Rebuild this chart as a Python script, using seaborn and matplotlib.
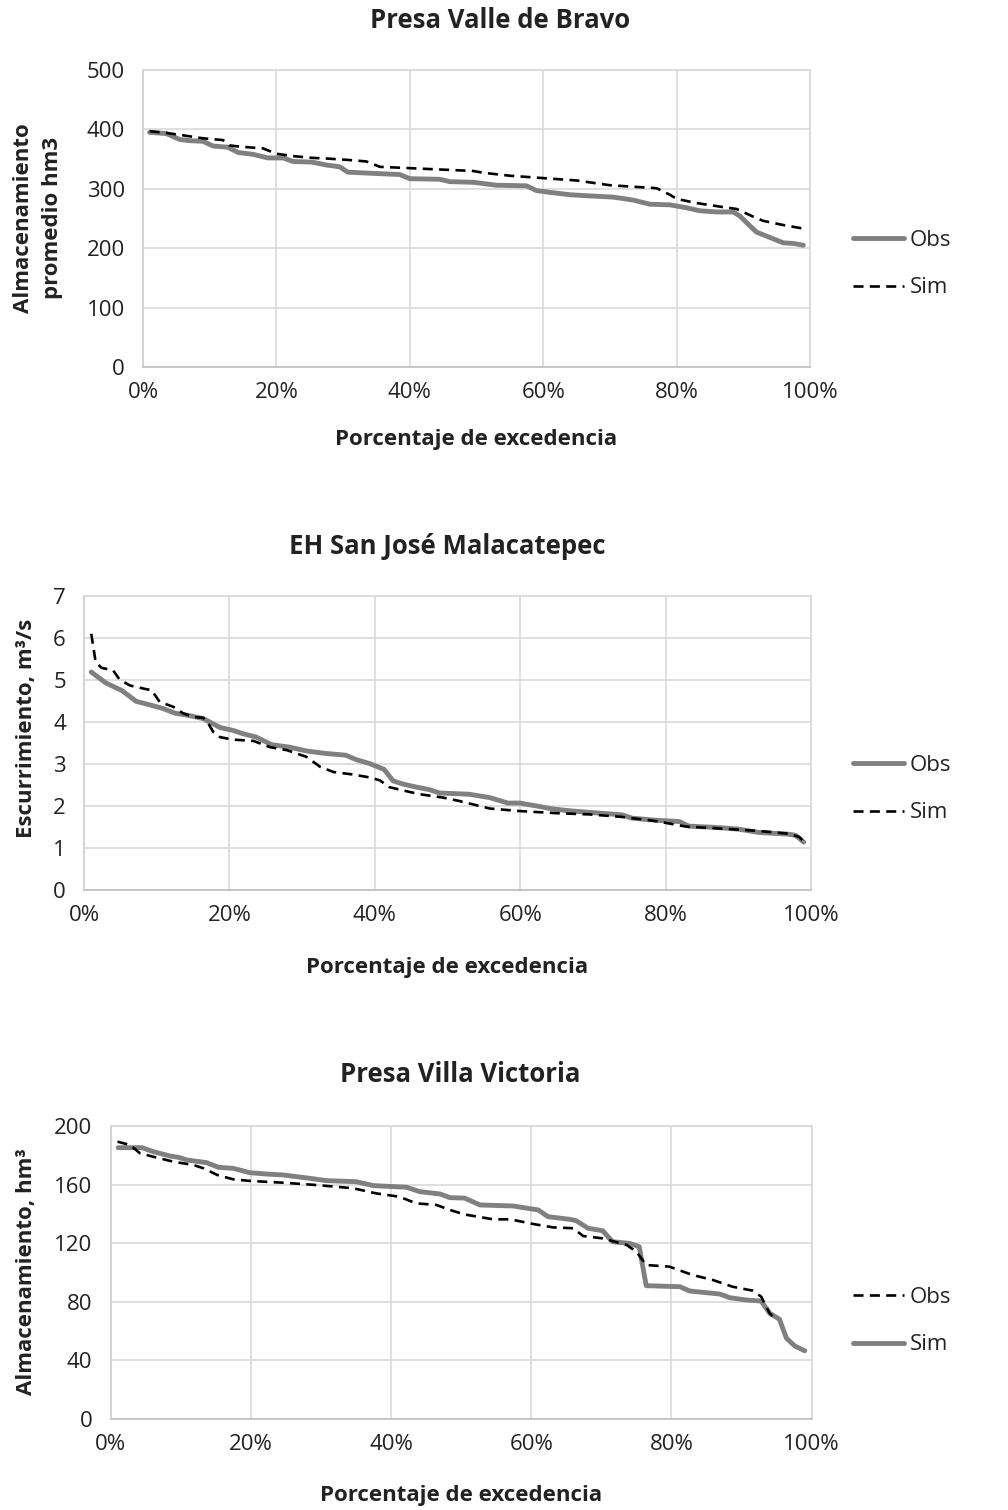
import matplotlib
matplotlib.use("Agg")
import matplotlib.pyplot as plt
import seaborn as sns
from matplotlib.ticker import FuncFormatter, MultipleLocator

# ---------------- data ----------------
# Chart 1: Presa Valle de Bravo
vb_obs_x = [1, 3.5, 5.5, 7, 9, 10.5, 12.7, 14.3, 16.5, 18.7, 21, 22.5, 25.3, 27.5, 29.5,
            30.7, 34.5, 38.5, 40, 44.5, 46, 49.5, 53, 57.5, 59, 61, 64, 67, 70.5, 73.5,
            76, 79, 81.5, 83.5, 86, 88.5, 89.5, 90.5, 92, 94, 96, 97.5, 99]
vb_obs_y = [395, 393, 383, 381, 380, 372, 370, 361, 358, 352, 352, 346, 345, 340, 337,
            328, 326, 324, 317, 316, 312, 311, 306, 305, 297, 294, 290, 288, 286, 281,
            274, 273, 268, 263, 261, 261, 254, 243, 227, 218, 209, 208, 205]
vb_sim_x = [1, 3.5, 6, 9, 12, 13, 14.5, 18, 20, 22.5, 25.5, 27.5, 31.5, 33.5, 35.5,
            39.5, 43.5, 49.5, 51, 55, 60, 65, 70, 77, 79, 80, 83, 86.5, 89, 91.5,
            93, 96, 99]
vb_sim_y = [397, 394, 390, 385, 382, 373, 371, 368, 359, 355, 352, 351, 348, 346, 337,
            335, 333, 330, 327, 322, 318, 314, 306, 301, 290, 283, 276, 270, 266, 253,
            246, 239, 233]

# Chart 2: EH San José Malacatepec
sj_obs_x = [1, 3, 5.2, 7.2, 9, 10.9, 12.5, 14.6, 16.4, 18.7, 20.5, 21.9, 23.7, 25.8,
            28.3, 30.6, 33.3, 36, 37.5, 39.3, 41.3, 42.5, 43.9, 45.7, 47.5, 48.9, 53,
            55.8, 58.3, 59.9, 62.6, 64.4, 67.2, 70.9, 74, 75.4, 78.7, 81.9, 83.2, 86.9,
            90, 92.8, 96.9, 97.9, 99]
sj_obs_y = [5.19, 4.93, 4.75, 4.49, 4.41, 4.32, 4.21, 4.15, 4.08, 3.87, 3.80, 3.72, 3.64,
            3.46, 3.40, 3.31, 3.25, 3.21, 3.10, 3.01, 2.87, 2.60, 2.52, 2.45, 2.39, 2.31,
            2.28, 2.20, 2.07, 2.07, 1.99, 1.93, 1.88, 1.83, 1.79, 1.71, 1.66, 1.63, 1.52,
            1.49, 1.45, 1.37, 1.33, 1.30, 1.14]
sj_sim_x = [1, 1.6, 2.4, 4, 4.9, 6.3, 8.6, 9.3, 10.4, 12.3, 13.6, 15, 16.4, 17.1, 17.8,
            18.7, 20.5, 23.3, 25.6, 27.9, 30.6, 32.5, 34.3, 37, 39.3, 40.7, 42, 43.9,
            46.2, 49.4, 51.6, 55.8, 59.9, 64.9, 69.5, 74, 78.7, 82.8, 87.8, 92.5, 97,
            98.4, 99]
sj_sim_y = [6.10, 5.43, 5.29, 5.23, 5.01, 4.87, 4.78, 4.76, 4.48, 4.36, 4.21, 4.12, 4.10,
            3.96, 3.76, 3.64, 3.58, 3.55, 3.40, 3.33, 3.17, 2.93, 2.81, 2.75, 2.68, 2.61,
            2.45, 2.37, 2.28, 2.20, 2.12, 1.94, 1.88, 1.83, 1.80, 1.74, 1.64, 1.51, 1.46,
            1.41, 1.34, 1.26, 1.15]

# Chart 3: Presa Villa Victoria (legend: Obs dashed, Sim solid)
vv_obs_x = [1, 2.8, 4.2, 6.1, 9, 11.8, 13.3, 15.2, 17.5, 19.9, 24.6, 29.4, 34.6, 37.9,
            41.2, 43.6, 46.5, 48.4, 50.5, 54.6, 57, 60.3, 63.1, 66, 67.4, 70.2, 73.6, 75,
            76.4, 79.7, 83, 85.9, 88.7, 91.6, 92.8, 94, 94.9]
vv_obs_y = [189.3, 187, 181.4, 179, 175.6, 173.4, 171.1, 166.6, 163.6, 162.5, 161.3,
            159.7, 157.5, 154, 151.7, 147.2, 146.1, 142.7, 139.6, 136.3, 136.3, 133.1,
            130.8, 130.2, 124.9, 123.3, 118.8, 114.2, 105.1, 104, 98.3, 94.9, 90.3, 87.6,
            83.5, 72.2, 67.6]
vv_sim_x = [1.1, 4.5, 6.1, 8.5, 9.7, 10.9, 13.7, 15.4, 17.5, 19.9, 22.3, 24.6, 28.4,
            30.8, 35, 37.5, 42.2, 44.1, 47, 48.4, 50.5, 52.7, 57.4, 61, 62.4, 65.5, 66.4,
            68.1, 70.2, 71.6, 74, 75.4, 76.4, 81.2, 82.6, 85, 86.9, 88.3, 90.7, 92.8, 94,
            95.4, 96.4, 97.6, 99]
vv_sim_y = [185.2, 185.2, 182.5, 179.5, 178.6, 176.8, 175, 171.8, 171.1, 168.1, 167.2,
            166.6, 164.3, 162.7, 162, 159.3, 158.2, 155.2, 153.6, 151.1, 150.8, 146.1,
            145.4, 142.7, 138.1, 136.3, 135.4, 130.2, 128.5, 121, 119.9, 117.6, 91, 90.3,
            87.4, 86.2, 85.3, 82.8, 81.2, 80.5, 72.2, 68.1, 55.1, 49.8, 46.6]

titles = ["Presa Valle de Bravo", "EH San José Malacatepec", "Presa Villa Victoria"]
ylabels = ["Almacenamiento\npromedio hm3", "Escurrimiento, m³/s", "Almacenamiento, hm³"]
xlabel = "Porcentaje de excedencia"
xticks = [0, 20, 40, 60, 80, 100]

# ---------------- style ----------------
sns.set_theme(style="white")
FONT = ["Open Sans", "DejaVu Sans"]
plt.rcParams["font.family"] = FONT

W, H = 1008, 1510
fig = plt.figure(figsize=(W / 100, H / 100), dpi=100)

GRID = "#d9d9d9"
OBS_C = "#808080"
DASH = (0, (3.8, 2.4))
TICK_FS = 16
LAB_FS = 16
TITLE_FS = 18.5
TXT_C = "#222222"

# axes rectangles in pixels (left, top, right, bottom)
rects = [(143, 70, 810, 367), (84, 596, 811, 890), (110.5, 1126, 811.7, 1419)]
ylims = [(0, 500, 100), (0, 7, 1), (0, 200, 40)]
title_pos = [(500, 20), (447, 547), (460, 1074)]
xlabel_y = [440, 967, 1495]
ylabel_pos = [(38, 218), (27, 728), (27, 1272)]
legend_y = [264, 789, 1321]

series = [
    [(vb_obs_x, vb_obs_y, "Obs", "solid"), (vb_sim_x, vb_sim_y, "Sim", "dash")],
    [(sj_obs_x, sj_obs_y, "Obs", "solid"), (sj_sim_x, sj_sim_y, "Sim", "dash")],
    [(vv_obs_x, vv_obs_y, "Obs", "dash"), (vv_sim_x, vv_sim_y, "Sim", "solid")],
]

for i in range(3):
    l, t, r, b = rects[i]
    ax = fig.add_axes([l / W, 1 - b / H, (r - l) / W, (b - t) / H])
    order = sorted(series[i], key=lambda s: 0 if s[3] == "solid" else 1)
    for xs, ys, lab, sty in order:
        if sty == "solid":
            sns.lineplot(x=xs, y=ys, ax=ax, color=OBS_C, linewidth=3.5, label=lab,
                         solid_joinstyle="round", solid_capstyle="round")
        else:
            sns.lineplot(x=xs, y=ys, ax=ax, color="black", linewidth=1.9, label=lab,
                         linestyle=DASH)
    lo, hi, step = ylims[i]
    ax.set_ylim(lo, hi)
    ax.set_xlim(0, 100)
    ax.yaxis.set_major_locator(MultipleLocator(step))
    ax.set_xticks(xticks)
    ax.xaxis.set_major_formatter(FuncFormatter(lambda v, p: f"{int(round(v))}%"))
    ax.grid(True, color=GRID, linewidth=1.2)
    ax.set_axisbelow(True)
    for sp in ax.spines.values():
        sp.set_color(GRID)
        sp.set_linewidth(1.2)
    ax.spines["bottom"].set_color("#bfbfbf")
    ax.spines["left"].set_color("#d0d0d0")
    ax.tick_params(axis="both", length=0, labelsize=TICK_FS, colors=TXT_C)
    ax.tick_params(axis="x", pad=11)
    ax.tick_params(axis="y", pad=13)
    ax.set_xlabel("")
    ax.set_ylabel("")

    hs, ls = ax.get_legend_handles_labels()
    pairs = sorted(zip(ls, hs), key=lambda p: 0 if p[0] == "Obs" else 1)
    ax.legend([p[1] for p in pairs], [p[0] for p in pairs], loc="center left",
              bbox_to_anchor=(853 / W, 1 - legend_y[i] / H), bbox_transform=fig.transFigure,
              frameon=False, fontsize=TICK_FS, handlelength=2.3, handletextpad=0.25,
              labelspacing=1.2, borderpad=0, borderaxespad=0, labelcolor=TXT_C)

    fig.text(title_pos[i][0] / W, 1 - title_pos[i][1] / H, titles[i], ha="center",
             va="center", fontsize=TITLE_FS, fontweight="bold", color=TXT_C)
    fig.text(((l + r) / 2) / W, 1 - xlabel_y[i] / H, xlabel, ha="center", va="center",
             fontsize=LAB_FS, fontweight="bold", color=TXT_C)
    fig.text(ylabel_pos[i][0] / W, 1 - ylabel_pos[i][1] / H, ylabels[i], ha="center",
             va="center", rotation=90, fontsize=LAB_FS, fontweight="bold",
             color=TXT_C, linespacing=1.45, multialignment="center")

fig.savefig("out.png", dpi=100, facecolor="white")
